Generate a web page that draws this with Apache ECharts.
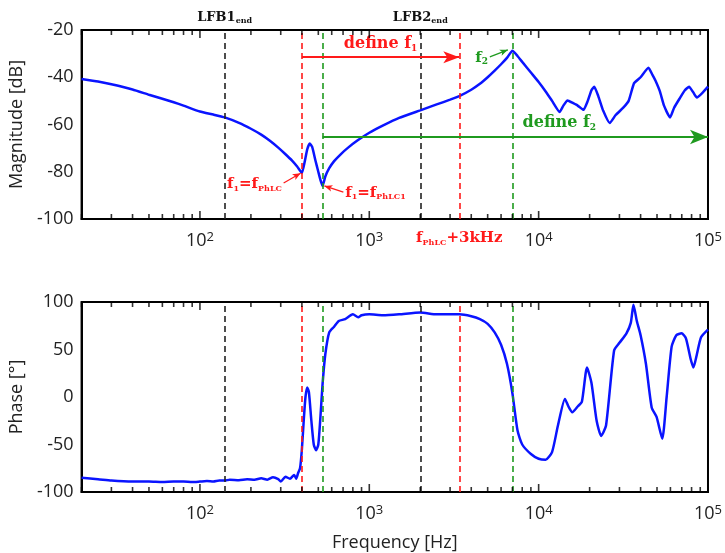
<!DOCTYPE html>
<html>
<head>
<meta charset="utf-8">
<script src="https://cdn.jsdelivr.net/npm/echarts@6/dist/echarts.min.js"></script>
<style>
html, body { margin: 0; padding: 0; background: #fff; }
#chart { width: 725px; height: 553px; }
</style>
</head>
<body>
<div id="chart"></div>
<script>
// magnitude response (Hz, dB)
const magFreq = [20, 25, 30, 40, 50, 60, 70, 80, 100, 120, 140, 170, 200, 230, 260, 290, 320, 350, 375, 400,
  415, 430, 445, 460, 480, 500, 515, 530, 550, 580, 620, 680, 750, 850, 1000, 1200, 1500, 2000, 2500, 3000,
  3400, 4000, 4500, 5000, 5500, 6000, 6500, 7000, 7500, 8000, 9000, 10000, 11000, 12000, 13300, 14000, 14800,
  16000, 17000, 18400, 19500, 20500, 21300, 22500, 24000, 26300, 28500, 31500, 34000, 36600, 40000, 44500,
  47000, 49000, 52000, 55000, 59700, 63000, 68000, 73000, 77300, 82000, 86000, 93000, 100000];
const magDb = [-40.7, -41.8, -43.0, -45.2, -47.4, -49.1, -50.6, -52.0, -54.5, -55.8, -57.0, -59.3, -61.8, -64.3,
  -67.0, -69.8, -72.6, -75.3, -77.8, -80.5, -76, -70.5, -68, -69.5, -75, -80, -83.5, -86, -82, -78.5, -75.5,
  -72.5, -69.8, -66.8, -63.5, -60.5, -57.2, -54, -51.5, -49.5, -48, -45.3, -42.8, -40, -37.2, -34.5, -31.8,
  -28.8, -31, -33.5, -38, -42, -46, -50, -54.7, -52, -49.8, -51, -52, -53.8, -50, -45.5, -44, -48, -54, -59.4,
  -56, -53, -50, -42.5, -40, -36, -39, -41.5, -46, -52, -57, -53, -49, -45.5, -44, -46.5, -48.6, -46.5, -44];

// phase response (Hz, deg)
const phaseFreq = [20, 25, 30, 40, 50, 60, 70, 80, 90, 100, 110, 120, 130, 140, 150, 170, 190, 210, 230, 250,
  270, 290, 300, 320, 340, 360, 370, 380, 390, 400, 410, 420, 430, 440, 455, 470, 485, 500, 515, 530, 550, 580,
  620, 660, 720, 800, 860, 900, 1000, 1200, 1500, 2000, 2500, 3000, 3400, 4000, 4500, 5000, 5500, 6000, 6500,
  7000, 7500, 8000, 9000, 10000, 11000, 12000, 13000, 14300, 15000, 15800, 17000, 18000, 19300, 20500, 22000,
  23400, 25000, 27900, 30000, 33000, 35000, 36300, 38000, 40000, 43000, 46500, 49700, 53700, 57000, 61000,
  65000, 69800, 74000, 79000, 82000, 86000, 91000, 100000];
const phaseDeg = [-85, -86.5, -88, -89, -89, -89.5, -89, -89, -89.5, -89, -88.5, -89, -88, -88, -87, -87.5,
  -86.5, -87, -85.5, -87, -84.5, -86.5, -89, -84, -86, -82, -86, -80, -75, -55, -25, 0, 10, 5, -25, -50, -56,
  -50, -20, 14, 45, 68, 74, 80, 82, 87, 84, 86, 87, 86, 87, 89, 87, 87, 87, 85, 82, 77, 68, 55, 35, 4, -35, -50,
  -60, -65, -66, -58, -30, -2, -10, -16, -10, -5, 31, 15, -25, -41, -30, 49, 57, 67, 78, 97, 80, 65, 35, -11,
  -21, -44, 0, 53, 65, 67, 62, 40, 31, 45, 63, 71];

// marker frequencies (Hz)
const lfb1End = 140;
const fPhLC = 400;
const fPhLC1 = 530;
const lfb2End = 2000;
const f1Upper = 3400;
const f2 = 7000;

// frequency axis ticks (20 Hz .. 100 kHz) and labelled decades
const freqTicks = [20, 30, 40, 50, 60, 70, 80, 90, 100, 200, 300, 400, 500, 600, 700, 800, 900,
  1000, 2000, 3000, 4000, 5000, 6000, 7000, 8000, 9000, 10000, 20000, 30000, 40000, 50000,
  60000, 70000, 80000, 90000, 100000];
const decadeTicks = [100, 1000, 10000, 100000];

const RED = '#ff1a1a';
const GREEN = '#1f9a1f';
const BLACK = '#222';
const BLUE = '#0a14ff';
const serif = 'DejaVu Serif';

const chart = echarts.init(document.getElementById('chart'));

const xAxisBase = {
  type: 'log', logBase: 10, min: 20, max: 100000,
  axisLine: { onZero: false, lineStyle: { color: '#000', width: 2 } },
  axisTick: { show: false },
  splitLine: { show: false },
  axisLabel: {
    margin: 12,
    customValues: decadeTicks,
    formatter: v => '{b|10}{e|' + Math.round(Math.log10(v)) + '}',
    rich: {
      b: { fontSize: 18, fontFamily: 'Open Sans', color: '#222' },
      e: { fontSize: 13, fontFamily: 'Open Sans', color: '#222', verticalAlign: 'top', padding: [0, 0, 6, 0] }
    }
  }
};

const yAxisBase = {
  type: 'value',
  axisLine: { show: true, onZero: false, lineStyle: { color: '#000', width: 2 } },
  axisTick: { show: false },
  splitLine: { show: false },
  axisLabel: { fontSize: 18, fontFamily: 'Open Sans', color: '#222', margin: 8 },
  nameLocation: 'middle',
  nameTextStyle: { fontSize: 18, fontFamily: 'Open Sans', color: '#222' }
};

const dash = c => ({ color: c, type: [6, 4], width: 1.6 });

const vLine = (f, c, label) => {
  const item = { xAxis: f, lineStyle: dash(c), label: { show: false } };
  if (label) item.label = label;
  return item;
};

const subRich = (c, big, small) => ({
  m: { fontFamily: serif, fontWeight: 'bold', fontSize: big, color: c, lineHeight: big + 4 },
  s: { fontFamily: serif, fontWeight: 'bold', fontSize: small, color: c, verticalAlign: 'bottom', padding: [0, 0, 1, 0] }
});

// inward frame ticks as thin rect symbols sitting on the bottom and top edges
const tickSeries = (idx, yMin, yMax) => {
  const pts = [];
  freqTicks.forEach(f => {
    const len = decadeTicks.indexOf(f) >= 0 ? 8 : 5;
    pts.push({ value: [f, yMin], symbolSize: [1.6, len], symbolOffset: [0, -len / 2] });
    pts.push({ value: [f, yMax], symbolSize: [1.6, len], symbolOffset: [0, len / 2] });
  });
  return {
    type: 'scatter', xAxisIndex: idx, yAxisIndex: idx, symbol: 'rect', clip: false, silent: true, z: 5,
    itemStyle: { color: '#000' }, data: pts
  };
};

const option = {
  animation: false,
  grid: [
    { left: 80, right: 14, top: 30, height: 189, show: true, borderColor: '#000', borderWidth: 2 },
    { left: 80, right: 14, top: 302, height: 190, show: true, borderColor: '#000', borderWidth: 2 }
  ],
  xAxis: [
    Object.assign({}, xAxisBase, { gridIndex: 0 }),
    Object.assign({}, xAxisBase, {
      gridIndex: 1, name: 'Frequency [Hz]', nameLocation: 'middle', nameGap: 42,
      nameTextStyle: { fontSize: 18, fontFamily: 'Open Sans', color: '#222' }
    })
  ],
  yAxis: [
    Object.assign({}, yAxisBase, { gridIndex: 0, min: -100, max: -20, interval: 20, name: 'Magnitude [dB]', nameGap: 42 }),
    Object.assign({}, yAxisBase, { gridIndex: 1, min: -100, max: 100, interval: 50, name: 'Phase [°]', nameGap: 48 })
  ],
  series: [
    {
      type: 'line', xAxisIndex: 0, yAxisIndex: 0, showSymbol: false, smooth: 0.15,
      lineStyle: { color: BLUE, width: 2.5 },
      data: magFreq.map((f, i) => [f, magDb[i]]),
      markLine: {
        silent: true, symbol: 'none', animation: false, label: { show: false },
        data: [
          vLine(lfb1End, BLACK, { show: true, position: 'end', distance: 4, formatter: '{m|LFB1}{s|end}', rich: subRich('#111', 13, 8) }),
          vLine(fPhLC, RED),
          vLine(fPhLC1, GREEN),
          vLine(lfb2End, BLACK, { show: true, position: 'end', distance: 4, formatter: '{m|LFB2}{s|end}', rich: subRich('#111', 13, 8) }),
          vLine(f1Upper, RED, { show: true, position: 'start', distance: 10, formatter: '{m|f}{s|PhLC}{m|+3kHz}', rich: subRich(RED, 15, 8) }),
          vLine(f2, GREEN),
          [
            { coord: [fPhLC, -31.5], symbol: 'none', lineStyle: { color: RED, width: 1.8, type: 'solid' },
              label: { show: true, position: 'middle', distance: 3, formatter: '{m|define f}{s|1}', rich: subRich(RED, 16, 9) } },
            { coord: [f1Upper, -31.5], symbol: 'arrow', symbolSize: [9, 16] }
          ],
          [
            { coord: [fPhLC1, -65.3], symbol: 'none', lineStyle: { color: GREEN, width: 2.2, type: 'solid' },
              label: { show: true, position: 'middle', distance: 4, offset: [44, 0], formatter: '{m|define f}{s|2}', rich: subRich(GREEN, 16, 9) } },
            { coord: [100000, -65.3], symbol: 'arrow', symbolSize: [11, 18] }
          ],
          [
            { coord: [312, -84.8], symbol: 'none', lineStyle: { color: RED, width: 1.2, type: 'solid' },
              label: { show: true, position: 'start', distance: 2, formatter: '{m|f}{s|1}{m|=f}{s|PhLC}', rich: subRich(RED, 15, 8) } },
            { coord: [393, -80.6], symbol: 'arrow', symbolSize: [5, 8] }
          ],
          [
            { coord: [703, -88.6], symbol: 'none', lineStyle: { color: RED, width: 1.2, type: 'solid' },
              label: { show: true, position: 'start', distance: 2, formatter: '{m|f}{s|1}{m|=f}{s|PhLC1}', rich: subRich(RED, 15, 8) } },
            { coord: [543, -86], symbol: 'arrow', symbolSize: [5, 8] }
          ],
          [
            { coord: [5150, -31.4], symbol: 'none', lineStyle: { color: GREEN, width: 1.2, type: 'solid' },
              label: { show: true, position: 'start', distance: 2, formatter: '{m|f}{s|2}', rich: subRich(GREEN, 15, 9) } },
            { coord: [6580, -28.4], symbol: 'arrow', symbolSize: [5, 8] }
          ]
        ]
      }
    },
    {
      type: 'line', xAxisIndex: 1, yAxisIndex: 1, showSymbol: false, smooth: 0.2,
      lineStyle: { color: BLUE, width: 2.5 },
      data: phaseFreq.map((f, i) => [f, phaseDeg[i]]),
      markLine: {
        silent: true, symbol: 'none', animation: false, label: { show: false },
        data: [
          vLine(lfb1End, BLACK), vLine(fPhLC, RED), vLine(fPhLC1, GREEN),
          vLine(lfb2End, BLACK), vLine(f1Upper, RED), vLine(f2, GREEN)
        ]
      }
    },
    tickSeries(0, -100, -20),
    tickSeries(1, -100, 100)
  ]
};

chart.setOption(option);
</script>
</body>
</html>
